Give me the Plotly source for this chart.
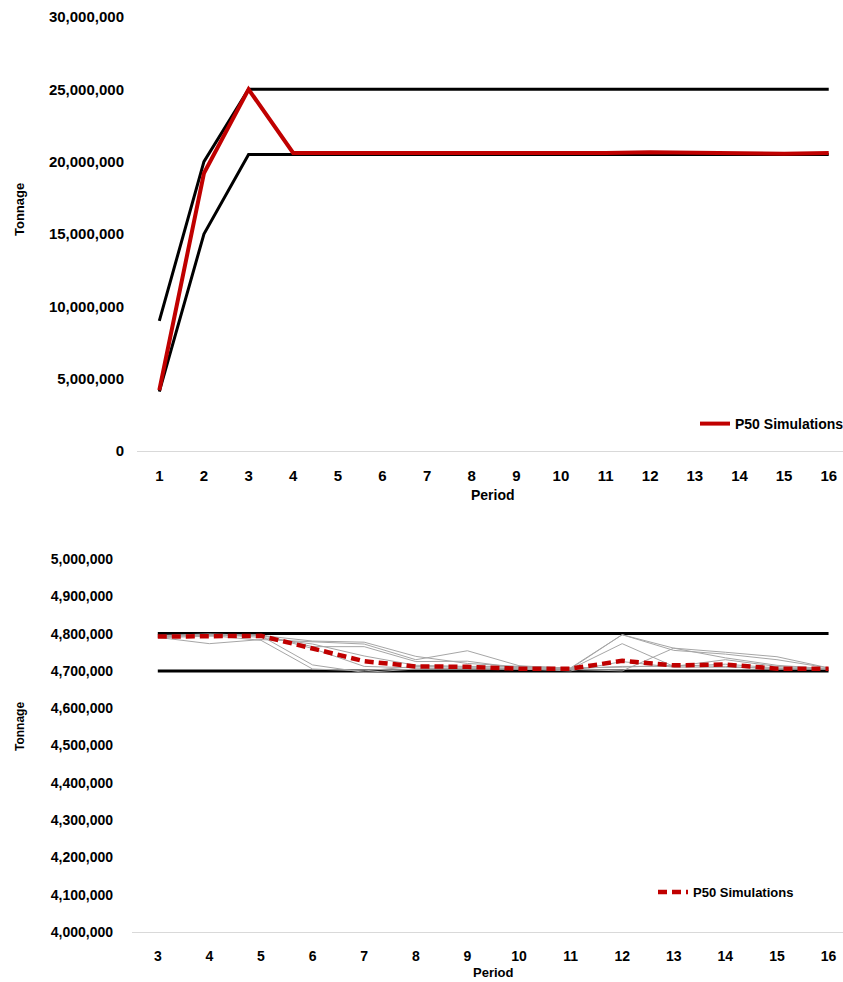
import plotly.graph_objects as go

# ---- data: upper chart (periods 1-16) ----
periods_all = list(range(1, 17))
upper_bound_all = [9_000_000, 20_000_000] + [25_000_000] * 14
lower_bound_all = [4_100_000, 15_000_000] + [20_500_000] * 14
p50_all = [4_200_000, 19_200_000, 25_000_000, 20_600_000, 20_600_000, 20_600_000,
           20_600_000, 20_550_000, 20_600_000, 20_550_000, 20_600_000, 20_650_000,
           20_600_000, 20_600_000, 20_550_000, 20_600_000]

# ---- data: lower chart (periods 3-16) ----
periods_sub = list(range(3, 17))
upper_bound_sub = [4_800_000] * 14
lower_bound_sub = [4_700_000] * 14
p50_sub = [4_792_000, 4_793_000, 4_794_000, 4_760_000, 4_726_000, 4_712_000, 4_711_000,
           4_706_000, 4_706_000, 4_727_000, 4_715_000, 4_717_000, 4_706_000, 4_706_000]
simulations_sub = [
    [4_795_000, 4_799_000, 4_795_000, 4_780_000, 4_777_000, 4_739_000, 4_720_000,
     4_712_000, 4_708_000, 4_797_000, 4_755_000, 4_745_000, 4_730_000, 4_708_000],
    [4_790_000, 4_773_000, 4_784_000, 4_778_000, 4_772_000, 4_730_000, 4_754_000,
     4_714_000, 4_706_000, 4_797_000, 4_761_000, 4_750_000, 4_738_000, 4_708_000],
    [4_792_000, 4_795_000, 4_782_000, 4_705_000, 4_700_000, 4_712_000, 4_710_000,
     4_710_000, 4_705_000, 4_773_000, 4_712_000, 4_730_000, 4_712_000, 4_706_000],
    [4_793_000, 4_796_000, 4_794_000, 4_716_000, 4_696_000, 4_705_000, 4_708_000,
     4_706_000, 4_704_000, 4_700_000, 4_761_000, 4_735_000, 4_715_000, 4_706_000],
    [4_794_000, 4_797_000, 4_796_000, 4_765_000, 4_765_000, 4_725_000, 4_726_000,
     4_708_000, 4_706_000, 4_712_000, 4_712_000, 4_718_000, 4_708_000, 4_706_000],
    [4_791_000, 4_798_000, 4_790_000, 4_772_000, 4_740_000, 4_715_000, 4_712_000,
     4_712_000, 4_708_000, 4_710_000, 4_715_000, 4_712_000, 4_706_000, 4_706_000],
    [4_789_000, 4_793_000, 4_797_000, 4_760_000, 4_712_000, 4_708_000, 4_706_000,
     4_705_000, 4_700_000, 4_725_000, 4_710_000, 4_710_000, 4_707_000, 4_706_000],
]

top_yticks = list(range(0, 30_000_001, 5_000_000))
sub_yticks = list(range(4_000_000, 5_000_001, 100_000))

W, H = 843, 982
RED = "#c00000"
GREY = "#a6a6a6"
AXIS = "#d9d9d9"
FONT = "Liberation Sans, Arial, sans-serif"

def px_x(x):
    return x / W

def px_y(y):
    return (H - y) / H

def bold(size):
    return dict(family=FONT, size=size, color="black", weight="bold")

fig = go.Figure()

# upper chart
fig.add_trace(go.Scatter(x=periods_all, y=upper_bound_all, mode="lines",
                         line=dict(color="black", width=3), showlegend=False,
                         xaxis="x", yaxis="y"))
fig.add_trace(go.Scatter(x=periods_all, y=lower_bound_all, mode="lines",
                         line=dict(color="black", width=3), showlegend=False,
                         xaxis="x", yaxis="y"))
fig.add_trace(go.Scatter(x=periods_all, y=p50_all, mode="lines", name="P50 Simulations",
                         line=dict(color=RED, width=4), legend="legend",
                         xaxis="x", yaxis="y"))

# lower chart
fig.add_trace(go.Scatter(x=periods_sub, y=upper_bound_sub, mode="lines",
                         line=dict(color="black", width=3), showlegend=False,
                         xaxis="x2", yaxis="y2"))
fig.add_trace(go.Scatter(x=periods_sub, y=lower_bound_sub, mode="lines",
                         line=dict(color="black", width=3), showlegend=False,
                         xaxis="x2", yaxis="y2"))
for sim in simulations_sub:
    fig.add_trace(go.Scatter(x=periods_sub, y=sim, mode="lines",
                             line=dict(color=GREY, width=1), showlegend=False,
                             xaxis="x2", yaxis="y2"))
fig.add_trace(go.Scatter(x=periods_sub, y=p50_sub, mode="lines", name="P50 Simulations",
                         line=dict(color=RED, width=4.5, dash="9px,5px"), legend="legend2",
                         xaxis="x2", yaxis="y2"))

fig.update_layout(
    width=W, height=H,
    margin=dict(l=0, r=0, t=0, b=0, autoexpand=False),
    paper_bgcolor="white", plot_bgcolor="white",
    xaxis=dict(domain=[px_x(137), 1], range=[0.5, 16.32], tickmode="array",
               tickvals=periods_all, ticktext=[str(p) for p in periods_all],
               showgrid=False, zeroline=False, showline=True, linecolor=AXIS,
               linewidth=1, ticks="", tickfont=bold(15), anchor="y",
               ticklabelstandoff=11, automargin=False),
    yaxis=dict(domain=[px_y(451), px_y(17)], range=[0, 30_000_000], tickmode="array",
               tickvals=top_yticks, ticktext=[f"{v:,}" for v in top_yticks],
               showgrid=False, zeroline=False, showline=False, ticks="",
               tickfont=bold(15), anchor="x", ticklabelstandoff=12, automargin=False),
    xaxis2=dict(domain=[px_x(132), 1], range=[2.5, 16.28], tickmode="array",
                tickvals=periods_sub, ticktext=[str(p) for p in periods_sub],
                showgrid=False, zeroline=False, showline=True, linecolor=AXIS,
                linewidth=1, ticks="", tickfont=bold(14), anchor="y2",
                ticklabelstandoff=11, automargin=False),
    yaxis2=dict(domain=[px_y(932), px_y(559)], range=[4_000_000, 5_000_000], tickmode="array",
                tickvals=sub_yticks, ticktext=[f"{v:,}" for v in sub_yticks],
                showgrid=False, zeroline=False, showline=False, ticks="",
                tickfont=bold(14), anchor="x2", ticklabelstandoff=18, automargin=False),
    legend=dict(x=px_x(849), y=px_y(424), xanchor="right", yanchor="middle",
                bgcolor="rgba(0,0,0,0)", borderwidth=0, font=bold(14)),
    legend2=dict(x=px_x(653), y=px_y(892), xanchor="left", yanchor="middle",
                 bgcolor="rgba(0,0,0,0)", borderwidth=0, font=bold(13)),
    annotations=[
        dict(text="Tonnage", x=px_x(20), y=px_y(210), xref="paper", yref="paper",
             xanchor="center", yanchor="middle", showarrow=False, textangle=-90,
             font=bold(13)),
        dict(text="Period", x=px_x(493), y=px_y(495), xref="paper", yref="paper",
             xanchor="center", yanchor="middle", showarrow=False, font=bold(14)),
        dict(text="Tonnage", x=px_x(20), y=px_y(727), xref="paper", yref="paper",
             xanchor="center", yanchor="middle", showarrow=False, textangle=-90,
             font=bold(12)),
        dict(text="Period", x=px_x(493), y=px_y(972), xref="paper", yref="paper",
             xanchor="center", yanchor="middle", showarrow=False, font=bold(13)),
    ],
)

fig.write_html("out.html")
